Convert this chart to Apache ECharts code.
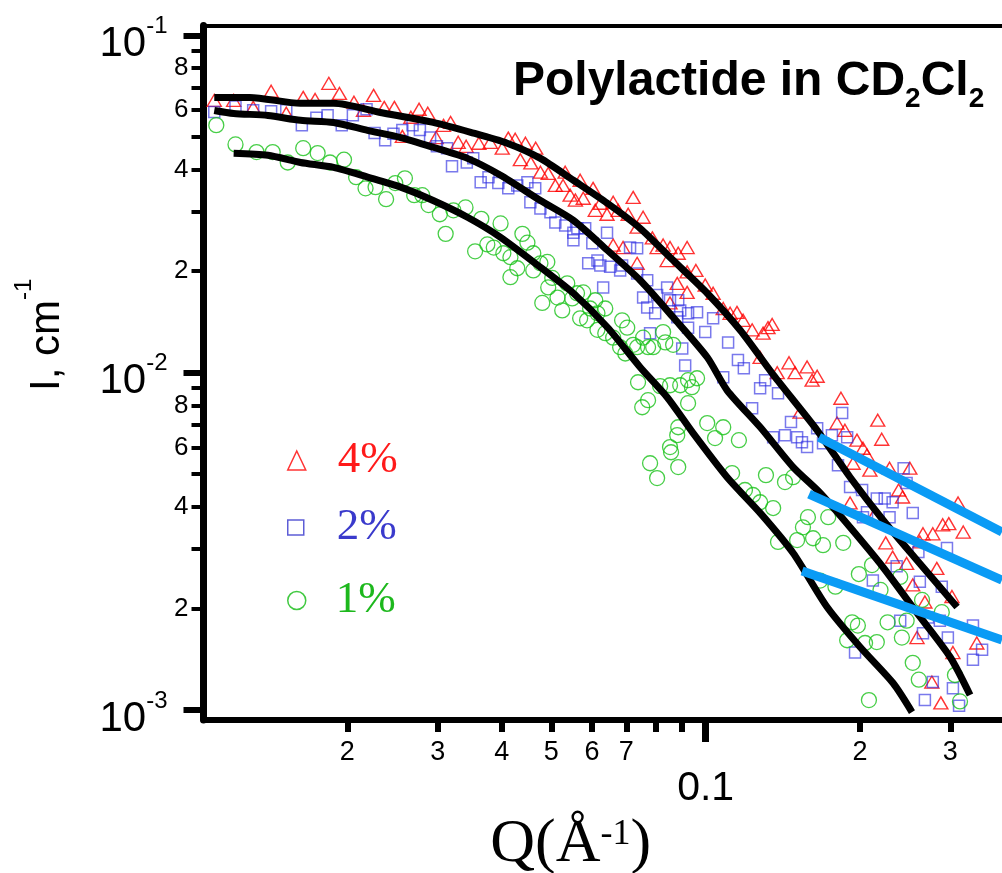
<!DOCTYPE html>
<html><head><meta charset="utf-8">
<script src="https://cdn.jsdelivr.net/npm/echarts@6/dist/echarts.min.js"></script>
<style>html,body{margin:0;padding:0;background:#fff}#c{width:1002px;height:873px}</style>
</head><body><div id="c"></div>
<script>
// ---- axis ranges and ticks ----
const xRange = [0.01048, 0.3785];
const yRange = [0.000934, 0.107];
const xMinorTicks = [0.02,0.03,0.04,0.05,0.06,0.07,0.08,0.09,0.2,0.3];
const xMinorLabels = [0.02,0.03,0.04,0.05,0.06,0.07,0.2,0.3];
const xMajorTicks = [0.1];
const yMinorTicks = [0.002,0.003,0.004,0.005,0.006,0.007,0.008,0.009,0.02,0.03,0.04,0.05,0.06,0.07,0.08,0.09];
const yMinorLabels = [0.002,0.004,0.006,0.008,0.02,0.04,0.06,0.08];
const yMajorTicks = [0.001,0.01,0.1];
const seriesNames = ['4%','2%','1%'];

// ---- measured data: [Q (1/Å), I (1/cm)] ----
const data4 = [[0.0110,0.0642],[0.0120,0.0642],[0.0131,0.0612],[0.0142,0.0683],[0.0152,0.0588],[0.0164,0.0655],[0.0173,0.0646],[0.0184,0.0721],[0.0193,0.0673],[0.0206,0.0634],[0.0215,0.0600],[0.0225,0.0664],[0.0236,0.0612],[0.0247,0.0612],[0.0256,0.0502],[0.0266,0.0572],[0.0276,0.0604],[0.0287,0.0588],[0.0298,0.0498],[0.0308,0.0541],[0.0318,0.0552],[0.0329,0.0482],[0.0341,0.0469],[0.0361,0.0479],[0.0380,0.0482],[0.0401,0.0463],[0.0412,0.0496],[0.0425,0.0492],[0.0435,0.0428],[0.0445,0.0479],[0.0456,0.0419],[0.0466,0.0463],[0.0476,0.0393],[0.0493,0.0390],[0.0509,0.0359],[0.0527,0.0359],[0.0532,0.0393],[0.0544,0.0336],[0.0557,0.0325],[0.0569,0.0372],[0.0577,0.0329],[0.0603,0.0352],[0.0609,0.0303],[0.0623,0.0318],[0.0642,0.0295],[0.0660,0.0320],[0.0675,0.0303],[0.0706,0.0295],[0.0722,0.0331],[0.0735,0.0270],[0.0755,0.0289],[0.0660,0.0239],[0.0690,0.0235],[0.0735,0.0211],[0.0787,0.0251],[0.0804,0.0235],[0.0826,0.0239],[0.0841,0.0215],[0.0852,0.0235],[0.0852,0.0161],[0.0880,0.0184],[0.0884,0.0226],[0.0920,0.0235],[0.0920,0.0199],[0.0920,0.0173],[0.0957,0.0201],[0.0998,0.0182],[0.1034,0.0172],[0.1082,0.0155],[0.1116,0.0150],[0.1151,0.0151],[0.1183,0.0143],[0.1232,0.0134],[0.1294,0.0131],[0.1323,0.0136],[0.1277,0.0111],[0.1348,0.0139],[0.1379,0.0100],[0.1454,0.0107],[0.1494,0.0100],[0.1528,0.00764],[0.1577,0.0104],[0.1613,0.00950],[0.1650,0.00976],[0.1804,0.00709],[0.1836,0.00840],[0.1869,0.00675],[0.1939,0.00539],[0.1973,0.00631],[0.2027,0.00597],[0.2064,0.00570],[0.2091,0.00514],[0.1913,0.00411],[0.2130,0.00378],[0.2166,0.00723],[0.2205,0.00635],[0.2245,0.00313],[0.2284,0.00521],[0.2316,0.00284],[0.2379,0.00449],[0.2422,0.00428],[0.2466,0.00272],[0.2502,0.00521],[0.2535,0.00235],[0.2584,0.00164],[0.2617,0.00315],[0.2654,0.00333],[0.2677,0.00209],[0.2762,0.00121],[0.2774,0.00333],[0.2824,0.00263],[0.2876,0.00105],[0.2900,0.00354],[0.2980,0.00357],[0.3023,0.00217],[0.3036,0.00148],[0.3107,0.00411],[0.3180,0.00337],[0.3380,0.00158]];
const data2 = [[0.0110,0.0593],[0.0121,0.0616],[0.0131,0.0600],[0.0142,0.0596],[0.0152,0.0600],[0.0163,0.0542],[0.0174,0.0570],[0.0183,0.0580],[0.0195,0.0542],[0.0205,0.0580],[0.0218,0.0604],[0.0226,0.0514],[0.0237,0.0489],[0.0246,0.0511],[0.0256,0.0524],[0.0268,0.0542],[0.0277,0.0524],[0.0290,0.0498],[0.0299,0.0469],[0.0313,0.0463],[0.0320,0.0409],[0.0342,0.0420],[0.0352,0.0432],[0.0364,0.0367],[0.0377,0.0380],[0.0394,0.0365],[0.0412,0.0352],[0.0429,0.0359],[0.0449,0.0367],[0.0465,0.0352],[0.0455,0.0320],[0.0476,0.0307],[0.0498,0.0299],[0.0509,0.0279],[0.0532,0.0273],[0.0552,0.0260],[0.0562,0.0268],[0.0582,0.0268],[0.0552,0.0247],[0.0601,0.0242],[0.0590,0.0211],[0.0615,0.0215],[0.0642,0.0260],[0.0623,0.0208],[0.0651,0.0206],[0.0681,0.0201],[0.0712,0.0235],[0.0735,0.0234],[0.0687,0.0208],[0.0735,0.0197],[0.0769,0.0188],[0.0631,0.0179],[0.0755,0.0167],[0.0769,0.0156],[0.0804,0.0170],[0.0797,0.0150],[0.0841,0.0179],[0.0852,0.0164],[0.0884,0.0164],[0.0892,0.0153],[0.0924,0.0150],[0.0962,0.0151],[0.0880,0.0146],[0.0924,0.0136],[0.0998,0.0132],[0.1034,0.0145],[0.0779,0.0131],[0.0900,0.0118],[0.0912,0.0105],[0.1106,0.0123],[0.1156,0.0109],[0.1187,0.0103],[0.1082,0.00970],[0.1306,0.00950],[0.1277,0.00900],[0.1384,0.00869],[0.1232,0.00785],[0.1467,0.00714],[0.1354,0.00644],[0.1428,0.00653],[0.1508,0.00644],[0.1541,0.00622],[0.1577,0.00602],[0.1650,0.00685],[0.1763,0.00653],[0.1888,0.00644],[0.1846,0.00759],[0.1694,0.00618],[0.1812,0.00532],[0.1913,0.00458],[0.2019,0.00449],[0.2157,0.00424],[0.2235,0.00424],[0.2316,0.00413],[0.2064,0.00386],[0.2027,0.00373],[0.2284,0.00373],[0.2535,0.00384],[0.2433,0.00521],[0.2466,0.00471],[0.2956,0.00302],[0.2600,0.00294],[0.2358,0.00267],[0.2119,0.00242],[0.2617,0.00240],[0.2888,0.00232],[0.2396,0.00184],[0.2715,0.00188],[0.2863,0.00184],[0.2654,0.00169],[0.2968,0.00164],[0.3322,0.00178],[0.3461,0.00151],[0.3322,0.00141],[0.1956,0.00148],[0.2774,0.00121],[0.3036,0.00116],[0.2677,0.00107],[0.3121,0.00103]];
const data1 = [[0.0111,0.0542],[0.0121,0.0475],[0.0133,0.0451],[0.0143,0.0451],[0.0153,0.0420],[0.0164,0.0463],[0.0175,0.0448],[0.0185,0.0420],[0.0197,0.0428],[0.0208,0.0380],[0.0217,0.0352],[0.0227,0.0355],[0.0238,0.0327],[0.0248,0.0365],[0.0259,0.0377],[0.0270,0.0336],[0.0280,0.0336],[0.0288,0.0314],[0.0303,0.0295],[0.0311,0.0258],[0.0322,0.0303],[0.0340,0.0309],[0.0355,0.0229],[0.0365,0.0286],[0.0375,0.0240],[0.0386,0.0235],[0.0398,0.0277],[0.0403,0.0226],[0.0416,0.0220],[0.0429,0.0204],[0.0416,0.0192],[0.0439,0.0258],[0.0449,0.0243],[0.0461,0.0226],[0.0461,0.0201],[0.0476,0.0211],[0.0491,0.0213],[0.0502,0.0191],[0.0480,0.0161],[0.0493,0.0179],[0.0514,0.0167],[0.0525,0.0153],[0.0537,0.0184],[0.0549,0.0166],[0.0561,0.0172],[0.0577,0.0173],[0.0569,0.0145],[0.0587,0.0143],[0.0595,0.0155],[0.0609,0.0164],[0.0615,0.0150],[0.0637,0.0155],[0.0615,0.0134],[0.0637,0.0131],[0.0660,0.0127],[0.0687,0.0143],[0.0703,0.0136],[0.0697,0.0114],[0.0681,0.0119],[0.0722,0.0121],[0.0735,0.0119],[0.0755,0.0127],[0.0772,0.0119],[0.0790,0.0119],[0.0826,0.0132],[0.0834,0.0123],[0.0864,0.0121],[0.0738,0.00937],[0.0815,0.00912],[0.0852,0.00918],[0.0892,0.00918],[0.0924,0.00950],[0.0940,0.00906],[0.0962,0.00963],[0.0772,0.00829],[0.0752,0.00790],[0.0924,0.00812],[0.0884,0.00689],[0.0880,0.00653],[0.1007,0.00709],[0.1082,0.00689],[0.1043,0.00640],[0.1161,0.00631],[0.0852,0.00602],[0.0856,0.00581],[0.0779,0.00539],[0.0884,0.00525],[0.0804,0.00487],[0.1126,0.00504],[0.1311,0.00497],[0.1428,0.00474],[0.1481,0.00490],[0.1193,0.00449],[0.1237,0.00434],[0.1277,0.00413],[0.1354,0.00397],[0.1583,0.00373],[0.1734,0.00373],[0.1548,0.00348],[0.1508,0.00319],[0.1620,0.00323],[0.1384,0.00315],[0.1694,0.00308],[0.1855,0.00313],[0.1672,0.00242],[0.1791,0.00232],[0.1990,0.00253],[0.2111,0.00269],[0.2193,0.00227],[0.2396,0.00248],[0.1931,0.00182],[0.1981,0.00178],[0.2264,0.00182],[0.1888,0.00161],[0.2046,0.00158],[0.2157,0.00159],[0.2414,0.00164],[0.2466,0.00184],[0.2643,0.00212],[0.2888,0.00195],[0.2535,0.00138],[0.2605,0.00123],[0.3064,0.00127],[0.3134,0.00106],[0.2082,0.00107]];

// ---- fitted model curves ----
const fit4 = [[0.0110,0.0655],[0.0129,0.0655],[0.0162,0.0629],[0.0188,0.0629],[0.0232,0.0591],[0.0294,0.0552],[0.0348,0.0516],[0.0410,0.0479],[0.0476,0.0432],[0.0552,0.0372],[0.0643,0.0318],[0.0745,0.0268],[0.0864,0.02154],[0.1007,0.0172],[0.1168,0.01336],[0.1366,0.0097],[0.1650,0.00675],[0.1913,0.0049],[0.2218,0.00366],[0.2584,0.00278],[0.3093,0.00202]];
const fit2 = [[0.0110,0.0599],[0.0120,0.0587],[0.0140,0.0579],[0.0162,0.0560],[0.0188,0.0552],[0.0219,0.0523],[0.0254,0.0498],[0.0294,0.0466],[0.0343,0.0432],[0.0398,0.0385],[0.0476,0.0324],[0.0552,0.0283],[0.0643,0.02307],[0.0745,0.0188],[0.0864,0.0146],[0.1007,0.01111],[0.1101,0.00887],[0.1277,0.0069],[0.1481,0.00525],[0.1672,0.0044],[0.1913,0.00348],[0.2218,0.00265],[0.2584,0.00194],[0.2998,0.001436],[0.3279,0.001108]];
const fit1 = [[0.0120,0.0447],[0.0140,0.0441],[0.0162,0.0420],[0.0188,0.0406],[0.0219,0.0380],[0.0254,0.0355],[0.0294,0.0324],[0.0343,0.0289],[0.0398,0.0252],[0.0476,0.02054],[0.0552,0.0172],[0.0643,0.01364],[0.0745,0.01038],[0.0841,0.00846],[0.0945,0.00662],[0.1101,0.0049],[0.1277,0.00384],[0.1481,0.00292],[0.1725,0.00202],[0.2001,0.001537],[0.2320,0.001202],[0.2526,0.000986]];

// ---- high-Q power-law lines ----
const power4 = [[0.1664,0.00644],[0.3785,0.003368]];
const power2 = [[0.1591,0.004365],[0.3785,0.002428]];
const power1 = [[0.1542,0.002582],[0.3785,0.001612]];

const SANS = 'Liberation Sans, Arial, Helvetica, sans-serif';
const SERIF = 'Liberation Serif, Times New Roman, serif';
const leading = v => String(Math.round(v / Math.pow(10, Math.floor(Math.log10(v) + 1e-9))));

const logAxisBase = (range) => ({
  type: 'log', logBase: 10, min: range[0], max: range[1],
  splitLine: {show: false}, minorTick: {show: false}, minorSplitLine: {show: false}
});

const chart = echarts.init(document.getElementById('c'), null, {renderer: 'canvas'});
const hollow = (c, w) => ({color: 'rgba(255,255,255,0)', borderColor: c, borderWidth: w});

const option = {
  animation: false,
  backgroundColor: '#ffffff',
  title: {
    text: '{a|Polylactide in CD}{s|2}{a|Cl}{s|2}',
    left: 513, top: 58, padding: 0,
    textStyle: {
      rich: {
        a: {fontFamily: SANS, fontWeight: 'bold', fontSize: 48, lineHeight: 48, verticalAlign: 'top', color: '#000'},
        s: {fontFamily: SANS, fontWeight: 'bold', fontSize: 28, lineHeight: 48, verticalAlign: 'top', padding: [27, 0, 0, 0], color: '#000'}
      }
    }
  },
  legend: [
    {data: [{name: seriesNames[0], icon: 'triangle', itemStyle: hollow('#ff0000', 1.5), textStyle: {color: '#ff1a1a', padding: [0,0,0,27]}}],
     left: 287, top: 438, padding: 0, itemWidth: 18, itemHeight: 19, selectedMode: false,
     textStyle: {fontFamily: SERIF, fontSize: 45}},
    {data: [{name: seriesNames[1], icon: 'rect', itemStyle: hollow('#3434cc', 1.5), textStyle: {color: '#3a3acc', padding: [0,0,0,28]}}],
     left: 287, top: 505, padding: 0, itemWidth: 16, itemHeight: 15, selectedMode: false,
     textStyle: {fontFamily: SERIF, fontSize: 45}},
    {data: [{name: seriesNames[2], icon: 'circle', itemStyle: hollow('#11bb11', 1.5), textStyle: {color: '#1db81d', padding: [0,0,0,25]}}],
     left: 287, top: 578, padding: 0, itemWidth: 18, itemHeight: 19, selectedMode: false,
     textStyle: {fontFamily: SERIF, fontSize: 45}}
  ],
  grid: {left: 203.5, top: 25.5, right: 0, bottom: 153, containLabel: false, outerBoundsMode: 'none'},
  xAxis: [
    Object.assign(logAxisBase(xRange), {
      position: 'bottom',
      axisLine: {show: true, onZero: false, lineStyle: {color: '#000', width: 6}},
      axisTick: {show: true, inside: false, length: 12, customValues: xMinorTicks, lineStyle: {color: '#000', width: 6}},
      axisLabel: {show: true, customValues: xMinorLabels, formatter: leading, margin: 19, fontFamily: SANS, fontSize: 27, color: '#000'}
    }),
    Object.assign(logAxisBase(xRange), {
      position: 'bottom',
      axisLine: {show: false, onZero: false},
      axisTick: {show: true, inside: false, length: 22, customValues: xMajorTicks, lineStyle: {color: '#000', width: 7}},
      axisLabel: {show: true, customValues: xMajorTicks, formatter: () => '0.1', margin: 48, fontFamily: SANS, fontSize: 41, color: '#000'},
      name: '{q|Q(Å}{s|-1}{q|)}',
      nameLocation: 'middle', nameGap: 90,
      nameTextStyle: {
        padding: [0, 64, 0, 0],
        rich: {
          q: {fontFamily: SERIF, fontSize: 62, lineHeight: 64, verticalAlign: 'top', color: '#000'},
          s: {fontFamily: SERIF, fontSize: 36, lineHeight: 64, verticalAlign: 'top', padding: [3, 0, 0, 0], color: '#000'}
        }
      }
    }),
    Object.assign(logAxisBase(xRange), {
      position: 'top',
      axisLine: {show: true, onZero: false, lineStyle: {color: '#000', width: 4}},
      axisTick: {show: false}, axisLabel: {show: false}
    })
  ],
  yAxis: [
    Object.assign(logAxisBase(yRange), {
      position: 'left',
      axisLine: {show: true, onZero: false, lineStyle: {color: '#000', width: 7}},
      axisTick: {show: true, inside: false, length: 12, customValues: yMinorTicks, lineStyle: {color: '#000', width: 4}},
      axisLabel: {show: true, customValues: yMinorLabels, formatter: leading, margin: 15, fontFamily: SANS, fontSize: 26, color: '#000'}
    }),
    Object.assign(logAxisBase(yRange), {
      position: 'left',
      axisLine: {show: false, onZero: false},
      axisTick: {show: true, inside: false, length: 20, customValues: yMajorTicks, lineStyle: {color: '#000', width: 6}},
      axisLabel: {
        show: true, customValues: yMajorTicks, margin: 36,
        formatter: v => '{b|10}{s|' + Math.round(Math.log10(v)) + '}',
        rich: {
          b: {fontFamily: SANS, fontSize: 42, lineHeight: 50, verticalAlign: 'top', padding: [13, 0, 0, 0], color: '#000'},
          s: {fontFamily: SANS, fontSize: 24, lineHeight: 50, verticalAlign: 'top', padding: [4, 0, 0, 0], color: '#000'}
        }
      },
      name: '{m|I, cm}{s|-1}',
      nameLocation: 'middle', nameGap: 135,
      nameTextStyle: {
        padding: [0, 0, 0, 76],
        rich: {
          m: {fontFamily: SANS, fontSize: 42, lineHeight: 56, verticalAlign: 'top', padding: [14, 0, 0, 0], color: '#000'},
          s: {fontFamily: SANS, fontSize: 24, lineHeight: 56, verticalAlign: 'top', color: '#000'}
        }
      }
    })
  ],
  series: [
    {name: seriesNames[0], type: 'scatter', data: data4, symbol: 'triangle', symbolSize: [14, 12],
     itemStyle: hollow('#ff0000', 1.4), z: 2},
    {name: seriesNames[1], type: 'scatter', data: data2, symbol: 'rect', symbolSize: 11,
     itemStyle: hollow('rgba(45,45,225,0.8)', 1.5), z: 2},
    {name: seriesNames[2], type: 'scatter', data: data1, symbol: 'circle', symbolSize: 15,
     itemStyle: hollow('#19c219', 1.3), z: 2},
    {type: 'line', data: fit4, showSymbol: false, symbol: 'none', smooth: 0.25, lineStyle: {color: '#000', width: 7}, z: 3},
    {type: 'line', data: fit2, showSymbol: false, symbol: 'none', smooth: 0.25, lineStyle: {color: '#000', width: 7}, z: 3},
    {type: 'line', data: fit1, showSymbol: false, symbol: 'none', smooth: 0.25, lineStyle: {color: '#000', width: 7}, z: 3},
    {type: 'line', data: power4, showSymbol: false, symbol: 'none', lineStyle: {color: '#0a9bf5', width: 9, cap: 'butt'}, z: 4},
    {type: 'line', data: power2, showSymbol: false, symbol: 'none', lineStyle: {color: '#0a9bf5', width: 9, cap: 'butt'}, z: 4},
    {type: 'line', data: power1, showSymbol: false, symbol: 'none', lineStyle: {color: '#0a9bf5', width: 9, cap: 'butt'}, z: 4}
  ]
};
chart.setOption(option);
</script>
</body></html>
